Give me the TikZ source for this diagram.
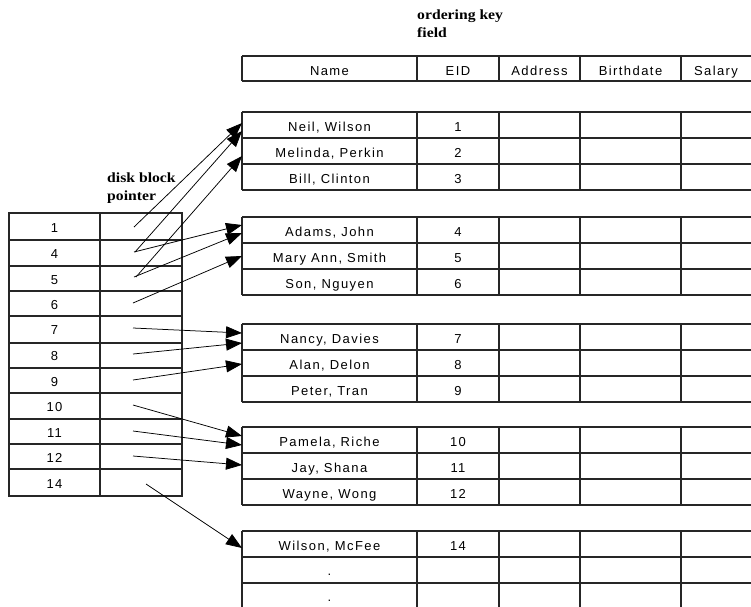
\documentclass[tikz,border=0pt]{standalone}
\usepackage{fontspec}
\setmainfont{Liberation Serif}
\newfontfamily\tabfont[LetterSpace=11]{Liberation Sans}
\usetikzlibrary{arrows.meta}
\begin{document}
\begin{tikzpicture}[x=1pt,y=-1pt,
  grid/.style={line width=1.1pt, draw=black!85},
  cell/.style={font=\tabfont\fontsize{13}{15}\selectfont, inner sep=0pt, text height=9.4pt, text depth=0pt, anchor=center},
  note/.style={font=\bfseries\fontsize{14}{15}\selectfont, xscale=1.12, anchor=base west, inner sep=0pt},
  ptr/.style={line width=0.75pt, -{Triangle[length=16pt,width=12pt]}}]
\useasboundingbox (0,0) rectangle (751,606);
\clip (0,0) rectangle (751,606);

% labels
\node[note] (ok1) at (417,19) {ordering key};
\node[note] (ok2) at (417,37.5) {field};
\node[note] (db1) at (107,182) {disk block};
\node[note] (db2) at (107,200.5) {pointer};

% index table
\draw[grid] (9,213) rectangle (182,496);
\draw[grid] (100,213) -- (100,496);
\foreach \y in {240,266,291,316,343,368,393,419,444,469} \draw[grid] (9,\y) -- (182,\y);
\foreach \n/\y in {1/227.5,4/254,5/279.5,6/304.5,7/330,8/356,9/381.5,10/407,11/432.5,12/457.5,14/483.5}
  \node[cell] (ix\n) at (54.5,\y) {\n};

% header of data file
\draw[grid] (242,56) -- (760,56) (242,81) -- (760,81);
\foreach \x in {242,417,499,580,681} \draw[grid] (\x,56) -- (\x,81);
\node[cell] (hName) at (329.5,70.5) {Name};
\node[cell] (hEID) at (458,70.5) {EID};
\node[cell] (hAddr) at (539.5,70.5) {Address};
\node[cell] (hBirth) at (630.5,70.5) {Birthdate};
\node[cell] (hSal) at (716,70.5) {Salary};

% data blocks
\foreach \T in {112,217,324,427,531}{
  \foreach \k in {0,1,2,3} \draw[grid] (242,\T+26*\k) -- (760,\T+26*\k);
  \foreach \x in {242,417,499,580,681} \draw[grid] (\x,\T) -- (\x,\T+78);
}
\foreach \T/\a/\b/\c/\i/\j/\k in {
  112/{Neil, Wilson}/{Melinda, Perkin}/{Bill, Clinton}/1/2/3,
  217/{Adams, John}/{Mary Ann, Smith}/{Son, Nguyen}/4/5/6,
  324/{Nancy, Davies}/{Alan, Delon}/{Peter, Tran}/7/8/9,
  427/{Pamela, Riche}/{Jay, Shana}/{Wayne, Wong}/10/11/12}{
  \node[cell] (n\i) at (329.5,\T+14.5) {\a};
  \node[cell] (e\i) at (458,\T+14.5) {\i};
  \node[cell] (n\j) at (329.5,\T+40.5) {\b};
  \node[cell] (e\j) at (458,\T+40.5) {\j};
  \node[cell] (n\k) at (329.5,\T+66.5) {\c};
  \node[cell] (e\k) at (458,\T+66.5) {\k};
}
\node[cell] (n14) at (329.5,545.5) {Wilson, McFee};
\node[cell] (e14) at (458,545.5) {14};
\node[cell] (dotA) at (329.5,571) {.};
\node[cell] (dotB) at (329.5,597) {.};

% pointer coordinates
\coordinate (s1) at (134,227);
\coordinate (s4a) at (135,252);
\coordinate (s5a) at (136,277);
\coordinate (s4) at (134,252);
\coordinate (s5) at (134,277);
\coordinate (s6) at (133,303);
\coordinate (s7) at (133,328);
\coordinate (s8) at (133,354);
\coordinate (s9) at (133,380);
\coordinate (s10) at (133,405);
\coordinate (s11) at (133,431);
\coordinate (s12) at (133,456);
\coordinate (s14) at (146,484);

\coordinate (t1) at (242,123);
\coordinate (t2) at (242,131);
\coordinate (t3) at (242,156);
\coordinate (t4) at (242,225);
\coordinate (t5) at (242,233);
\coordinate (t6) at (242,256);
\coordinate (t7) at (242,333);
\coordinate (t8) at (242,343);
\coordinate (t9) at (242,364);
\coordinate (t10) at (242,436);
\coordinate (t11) at (242,445);
\coordinate (t12) at (242,465);
\coordinate (t14) at (242,548);

\draw[ptr] (s1) -- (t1);
\draw[ptr] (s4a) -- (t2);
\draw[ptr] (s5a) -- (t3);
\draw[ptr] (s4) -- (t4);
\draw[ptr] (s5) -- (t5);
\draw[ptr] (s6) -- (t6);
\draw[ptr] (s7) -- (t7);
\draw[ptr] (s8) -- (t8);
\draw[ptr] (s9) -- (t9);
\draw[ptr] (s10) -- (t10);
\draw[ptr] (s11) -- (t11);
\draw[ptr] (s12) -- (t12);
\draw[ptr] (s14) -- (t14);
\end{tikzpicture}
\end{document}
